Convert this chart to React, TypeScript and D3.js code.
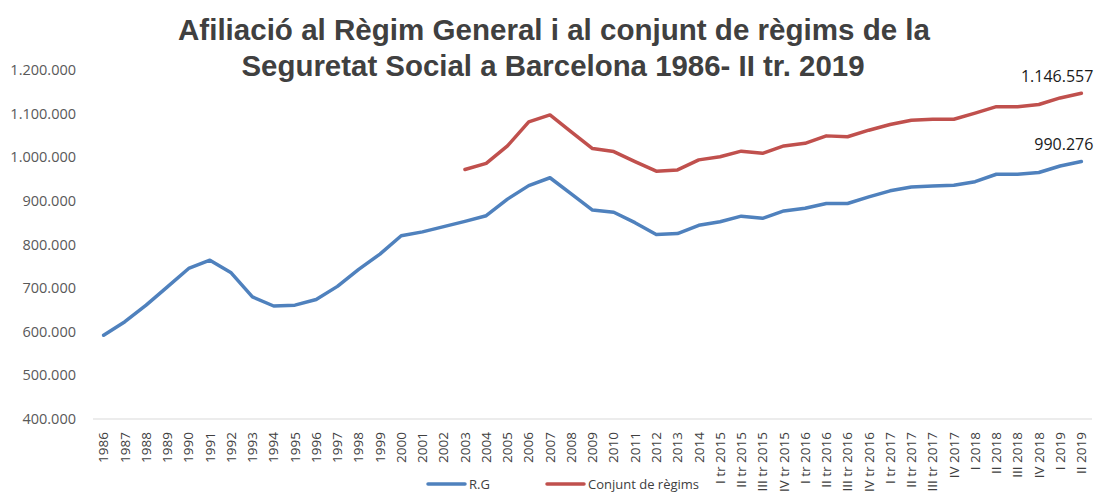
import { useEffect, useRef } from "react";
import * as d3 from "d3";

const categories = [
  "1986", "1987", "1988", "1989", "1990", "1991", "1992", "1993", "1994", "1995",
  "1996", "1997", "1998", "1999", "2000", "2001", "2002", "2003", "2004", "2005",
  "2006", "2007", "2008", "2009", "2010", "2011", "2012", "2013", "2014",
  "I tr 2015", "II tr 2015", "III tr 2015", "IV tr 2015",
  "I tr 2016", "II tr 2016", "III tr 2016", "IV tr 2016",
  "I tr 2017", "II tr 2017", "III tr 2017", "IV 2017",
  "I 2018", "II 2018", "III 2018", "IV 2018",
  "I 2019", "II 2019",
];

// Règim General
const rgValues = [
  592000, 623000, 661000, 703000, 745000, 764000, 735000, 680000, 659000, 661000,
  674000, 704000, 743000, 778000, 820000, 829000, 841000, 853000, 866000, 904000,
  935000, 953000, 916000, 879000, 874000, 850000, 823000, 825000, 844000,
  852000, 865000, 860000, 877000,
  883000, 894000, 894000, 909000,
  923000, 932000, 934000, 936000,
  944000, 961000, 961000, 965000,
  980000, 990276,
];

// Conjunt de règims (no data before 2003)
const conjuntValues: (number | null)[] = [
  null, null, null, null, null, null, null, null, null, null,
  null, null, null, null, null, null, null, 972000, 986000, 1026000,
  1081000, 1097000, 1058000, 1020000, 1013000, 990000, 968000, 971000, 994000,
  1001000, 1014000, 1009000, 1026000,
  1032000, 1049000, 1047000, 1062000,
  1075000, 1085000, 1087000, 1087000,
  1101000, 1116000, 1116000, 1121000,
  1136000, 1146557,
];

const yTicks = [400000, 500000, 600000, 700000, 800000, 900000, 1000000, 1100000, 1200000];

const titleLines = [
  "Afiliació al Règim General i al conjunt de règims de la",
  "Seguretat Social a Barcelona 1986- II tr. 2019",
];

const seriesNames = ["R.G", "Conjunt de règims"];
const seriesColors = ["#4f81bd", "#c0504d"];

const W = 1100;
const H = 493;

const App = () => {
  const svgRef = useRef<SVGSVGElement | null>(null);

  useEffect(() => {
    if (!svgRef.current) return;
    const svg = d3.select(svgRef.current);
    svg.selectAll("*").remove();

    const locale = d3.formatLocale({
      decimal: ",",
      thousands: ".",
      grouping: [3],
      currency: ["", "€"],
    });
    const fmt = locale.format(",d");

    const x = d3.scaleBand<string>().domain(categories).range([93, 1092]);
    const y = d3.scaleLinear().domain([400000, 1200000]).range([419, 70]);
    const cx = (c: string) => (x(c) ?? 0) + x.bandwidth() / 2;

    // títol
    const title = svg
      .append("g")
      .attr("font-family", "'Liberation Sans', Arial, sans-serif")
      .attr("font-weight", "bold")
      .attr("fill", "#404040")
      .attr("font-size", 30);
    title
      .append("text")
      .attr("x", 554)
      .attr("y", 40)
      .attr("text-anchor", "middle")
      .attr("textLength", 752)
      .attr("lengthAdjust", "spacingAndGlyphs")
      .text(titleLines[0]);
    title
      .append("text")
      .attr("x", 553)
      .attr("y", 76)
      .attr("text-anchor", "middle")
      .attr("textLength", 623)
      .attr("lengthAdjust", "spacingAndGlyphs")
      .text(titleLines[1]);

    // eix Y (només etiquetes)
    svg
      .append("g")
      .selectAll("text")
      .data(yTicks)
      .join("text")
      .attr("x", 76)
      .attr("y", (d) => y(d))
      .attr("dy", "0.35em")
      .attr("text-anchor", "end")
      .attr("font-family", "'Open Sans', sans-serif")
      .attr("font-size", 14.5)
      .attr("fill", "#595959")
      .text((d) => fmt(d));

    // línia base
    svg
      .append("line")
      .attr("x1", 93)
      .attr("x2", 1092)
      .attr("y1", y(400000))
      .attr("y2", y(400000))
      .attr("stroke", "#d9d9d9")
      .attr("stroke-width", 1);

    // eix X
    svg
      .append("g")
      .selectAll("text")
      .data(categories)
      .join("text")
      .attr("transform", (d) => `translate(${cx(d)},432) rotate(-90)`)
      .attr("dy", "0.35em")
      .attr("text-anchor", "end")
      .attr("font-family", "'Open Sans', sans-serif")
      .attr("font-size", 13.5)
      .attr("fill", "#404040")
      .text((d) => d);

    // línies
    const series = [rgValues, conjuntValues];
    series.forEach((vals, i) => {
      const line = d3
        .line<number | null>()
        .defined((d) => d !== null)
        .x((_, j) => cx(categories[j]))
        .y((d) => y(d as number));
      svg
        .append("path")
        .datum(vals)
        .attr("fill", "none")
        .attr("stroke", seriesColors[i])
        .attr("stroke-width", 3.5)
        .attr("stroke-linejoin", "round")
        .attr("stroke-linecap", "round")
        .attr("d", line);

      // etiqueta de l'últim valor
      const last = vals[vals.length - 1] as number;
      svg
        .append("text")
        .attr("x", cx(categories[categories.length - 1]) + 12)
        .attr("y", y(last) - 11)
        .attr("text-anchor", "end")
        .attr("font-family", "'Open Sans', sans-serif")
        .attr("font-size", 16)
        .attr("fill", "#1a1a1a")
        .text(fmt(last));
    });

    // llegenda
    const legendX = [428, 547];
    seriesNames.forEach((name, i) => {
      const g = svg.append("g").attr("transform", `translate(${legendX[i]},484)`);
      g.append("line")
        .attr("x1", 0)
        .attr("x2", 37)
        .attr("stroke", seriesColors[i])
        .attr("stroke-width", 3.5)
        .attr("stroke-linecap", "round");
      g.append("text")
        .attr("x", 41)
        .attr("dy", "0.35em")
        .attr("font-family", "'Open Sans', sans-serif")
        .attr("font-size", 13)
        .attr("fill", "#404040")
        .text(name);
    });
  }, []);

  return (
    <svg
      ref={svgRef}
      width={W}
      height={H}
      style={{ position: "absolute", left: 0, top: 0, background: "#fff" }}
    ></svg>
  );
};

export default App;
